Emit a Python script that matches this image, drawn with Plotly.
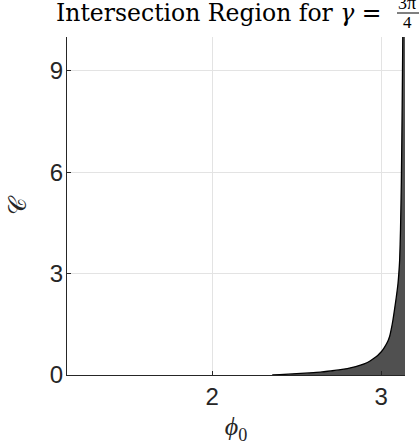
import plotly.graph_objects as go
import math

# Boundary curve of the intersection region
phi0 = [2.356, 2.40, 2.45, 2.50, 2.55, 2.60, 2.65, 2.70, 2.75, 2.80, 2.85,
        2.90, 2.93, 2.96, 2.98, 3.00, 3.02, 3.04, 3.05, 3.06, 3.07, 3.08,
        3.09, 3.10, 3.105, 3.11, 3.115, 3.12, 3.125, 3.13, 3.135, 3.1416]
C_vals = [0.0, 0.01, 0.025, 0.04, 0.055, 0.07, 0.09, 0.12, 0.15, 0.19, 0.25,
          0.33, 0.40, 0.50, 0.58, 0.68, 0.82, 1.00, 1.13, 1.35, 1.62, 1.95,
          2.30, 2.70, 3.00, 3.40, 4.30, 5.70, 8.00, 11.0, 17.0, 60.0]

x_ticks = [2, 3]
y_ticks = [0, 3, 6, 9]
x_range = [math.pi - 2, math.pi]
y_range = [0, 10]

W, H = 419, 448
L, R, T, B = 67, 14, 37, 73
PW, PH = W - L - R, H - T - B

def px(xp):
    return (xp - L) / PW

def py(yp):
    return (H - B - yp) / PH

fig = go.Figure()
fig.add_trace(go.Scatter(
    x=phi0, y=C_vals, mode="lines", fill="tozeroy",
    fillcolor="rgb(80,80,80)", line=dict(color="black", width=1.3, shape="spline", smoothing=0.6),
    showlegend=False, hoverinfo="skip"))

axis_common = dict(
    showline=True, linecolor="#262626", linewidth=1, mirror=False,
    ticks="inside", ticklen=4, tickcolor="#262626",
    showgrid=True, gridcolor="#e3e3e3", gridwidth=1, zeroline=False,
    tickfont=dict(family="Liberation Sans, Arial, sans-serif", size=24, color="#262626"),
)

fig.update_layout(
    width=W, height=H,
    margin=dict(l=L, r=R, t=T, b=B),
    paper_bgcolor="white", plot_bgcolor="white",
    xaxis=dict(range=x_range, tickvals=x_ticks, ticktext=[str(v) for v in x_ticks],
               title=dict(text="<i>ϕ</i><sub>0</sub>", standoff=8,
                          font=dict(family="Liberation Serif, serif", size=26, color="#262626")),
               **axis_common),
    yaxis=dict(range=y_range, tickvals=y_ticks, ticktext=[str(v) for v in y_ticks],
               ticklabelstandoff=-2,
               title=dict(text="𝒞", standoff=16,
                          font=dict(family="DejaVu Serif, Liberation Serif, serif", size=24, color="#262626")),
               **axis_common),
)

# Title (LaTeX-like) positioned as annotations
fig.add_annotation(
    text="Intersection Region for <i>γ</i> =",
    xref="paper", yref="paper", x=px(384), y=py(13),
    xanchor="right", yanchor="middle", showarrow=False,
    font=dict(family="DejaVu Serif, serif", size=23.5, color="black"))
fig.add_annotation(
    text="3π", xref="paper", yref="paper", x=px(396), y=py(3),
    xanchor="left", yanchor="middle", showarrow=False,
    font=dict(family="Liberation Serif, serif", size=18, color="black"))
fig.add_annotation(
    text="4", xref="paper", yref="paper", x=px(407), y=py(22.5),
    xanchor="center", yanchor="middle", showarrow=False,
    font=dict(family="Liberation Serif, serif", size=17, color="black"))
fig.add_shape(type="line", xref="paper", yref="paper",
              x0=px(397), x1=px(430), y0=py(13), y1=py(13),
              line=dict(color="black", width=1))

fig.write_html("out.html")
